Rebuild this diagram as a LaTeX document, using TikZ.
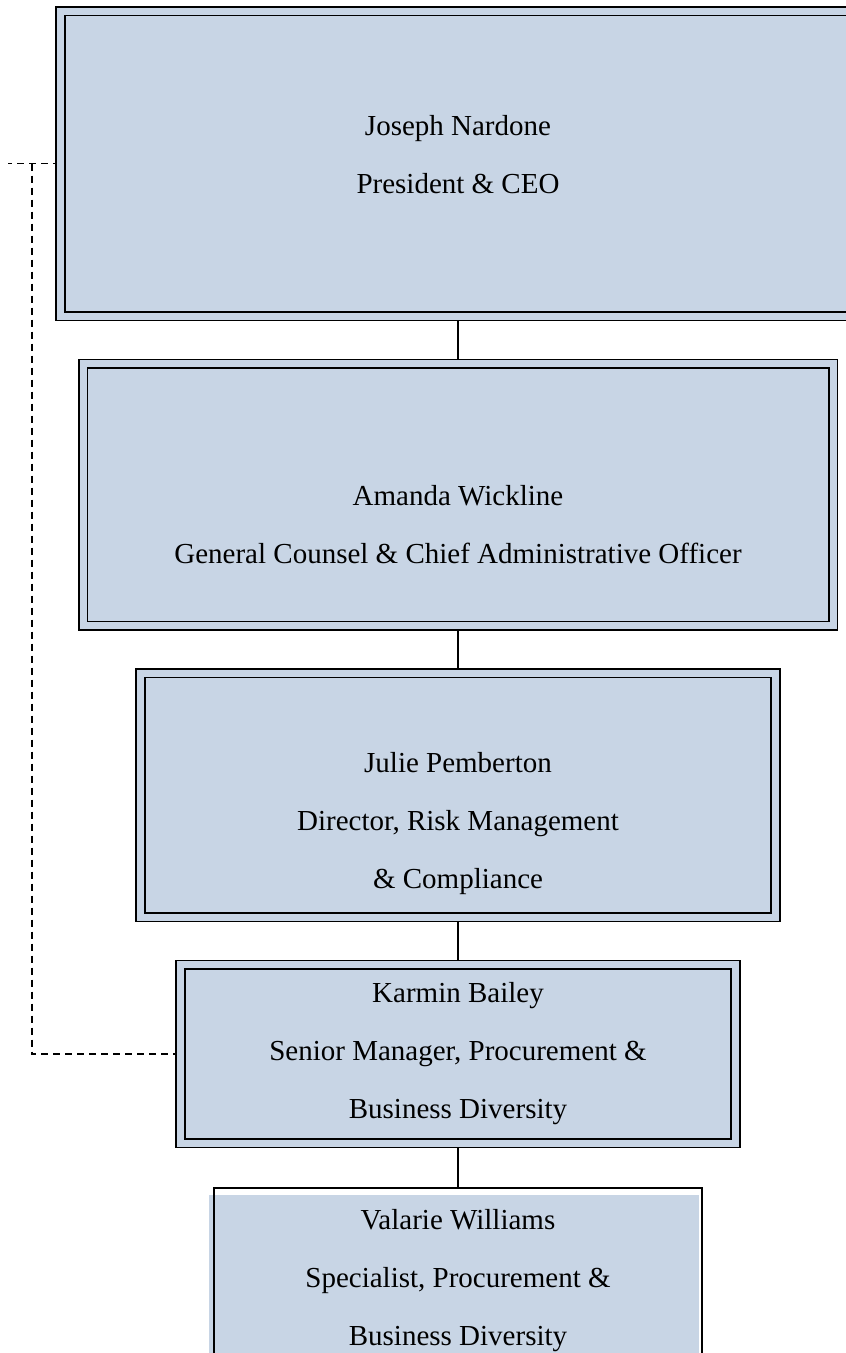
\documentclass[tikz,border=0pt]{standalone}
\usepackage{fontspec}
\setmainfont{Liberation Serif}
\usetikzlibrary{positioning}
\pgfdeclarelayer{background}
\pgfsetlayers{background,main}
\definecolor{boxfill}{RGB}{200,213,229}
\tikzset{
    orgbox/.style={draw=black, line width=1.6pt, double=boxfill, double distance=7pt, fill=boxfill, inner sep=0pt},
    plainbox/.style={draw=black, line width=1.6pt, inner sep=0pt},
    orgtext/.style={align=center, inner sep=0pt, font=\fontsize{29}{58}\selectfont},
    link/.style={line width=1.5pt},
    dotlink/.style={line width=1.4pt, dash pattern=on 7pt off 5pt},
}

\begin{document}
\begin{tikzpicture}[x=1pt, y=-1pt]  % units of pixels, y runs down
    \useasboundingbox (0,0) rectangle (846,1353);
    \clip (0,0) rectangle (846,1353);
    \pgfmathsetmacro{\gap}{46}  % border to border, units of points

    % boxes
    \node[orgbox, minimum width=795pt, minimum height=305pt] (nardone) at (458,163.5) {};
    \node[orgbox, minimum width=750pt, minimum height=262pt, below=\gap pt of nardone] (wickline) {};
    \node[orgbox, minimum width=635pt, minimum height=244pt, below=\gap pt of wickline] (pemberton) {};
    \node[orgbox, minimum width=555pt, minimum height=178.5pt, below=\gap pt of pemberton] (bailey) {};
    \node[plainbox, minimum width=488pt, minimum height=250pt, below=43pt of bailey] (williams) {};

    % texts
    \node[orgtext] (nardonetxt) at ([yshift=9pt]nardone.center) {Joseph Nardone\\President \& CEO};
    \node[orgtext] (wicklinetxt) at ([yshift=-30pt]wickline.center) {Amanda Wickline\\General Counsel \& Chief Administrative Officer};
    \node[orgtext] (pembertontxt) at ([yshift=-28pt]pemberton.center) {Julie Pemberton\\Director, Risk Management\\\& Compliance};
    \node[orgtext] (baileytxt) at (bailey.center) {Karmin Bailey\\Senior Manager, Procurement \&\\Business Diversity};
    \node[orgtext] (williamstxt) at ([yshift=-93.5pt]williams.north) {Valarie Williams\\Specialist, Procurement \&\\Business Diversity};

    \coordinate (dashend) at (8,163.5);
    \coordinate (dashturn) at (32,163.5);

    \begin{pgfonlayer}{background}
        % fill of the last box sits a little off its border
        \fill[boxfill] ([shift={(-4,8)}]williams.north west) rectangle ([shift={(-4,8)}]williams.south east);
        \draw[link] (nardone) -- (wickline);
        \draw[link] (wickline) -- (pemberton);
        \draw[link] (pemberton) -- (bailey);
        \draw[link] (bailey) -- (williams);
        \draw[dotlink] (nardone.west) -- (dashend);
        \draw[dotlink] (dashturn) |- (bailey.west);
    \end{pgfonlayer}
\end{tikzpicture}
\end{document}
